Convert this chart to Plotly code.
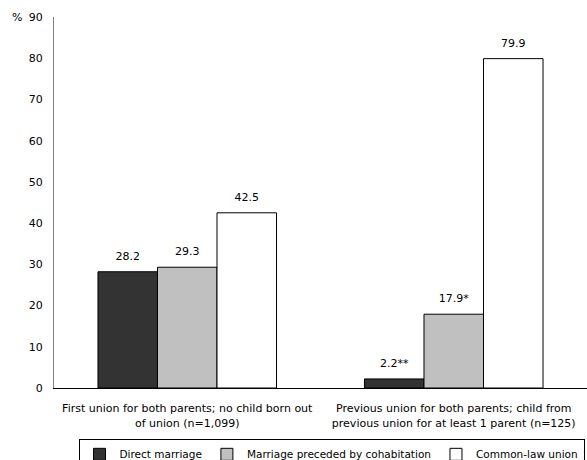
import plotly.graph_objects as go

categories = ["First union for both parents; no child born out<br>of union (n=1,099)",
              "Previous union for both parents; child from<br>previous union for at least 1 parent (n=125)"]
series_names = ["Direct marriage", "Marriage preceded by cohabitation", "Common-law union"]
direct = [28.2, 2.2]
cohab = [29.3, 17.9]
common = [42.5, 79.9]
direct_labels = ["28.2", "2.2**"]
cohab_labels = ["29.3", "17.9*"]
common_labels = ["42.5", "79.9"]
y_ticks = [0, 10, 20, 30, 40, 50, 60, 70, 80, 90]

colors = ["#333333", "#c0c0c0", "#ffffff"]
FONT = "DejaVu Sans"
FS = 11

fig = go.Figure()
for name, vals, col in zip(series_names, [direct, cohab, common], colors):
    fig.add_trace(go.Bar(
        x=categories, y=vals, name=name, marker_color=col,
        marker_line=dict(color="#000000", width=1),
    ))
for name, vals, labs in zip(series_names, [direct, cohab, common],
                            [direct_labels, cohab_labels, common_labels]):
    fig.add_trace(go.Scatter(
        x=categories, y=vals, text=labs, mode="markers+text",
        textposition="top center", marker=dict(size=13, opacity=0),
        textfont=dict(family=FONT, size=FS, color="#000000"),
        showlegend=False, hoverinfo="skip", cliponaxis=False,
    ))

fig.update_layout(
    width=587, height=460,
    margin=dict(l=54, r=0, t=17, b=72, autoexpand=False),
    barmode="group", bargap=0.33, bargroupgap=0,
    scattermode="group", scattergap=0.33,
    plot_bgcolor="white", paper_bgcolor="white",
    font=dict(family=FONT, size=FS, color="#000000"),
    showlegend=True,
    legend=dict(orientation="h", x=0.046, xanchor="left", y=-0.137, yanchor="top",
                bordercolor="#000000", borderwidth=1, font=dict(family=FONT, size=10.5),
                itemwidth=30, tracegroupgap=0),
    yaxis=dict(range=[0, 90], tickvals=y_ticks, showgrid=False, zeroline=False,
               showline=True, linecolor="#808080", linewidth=1, ticks="",
               ticklabelstandoff=8, tickfont=dict(family=FONT, size=FS)),
    xaxis=dict(showline=True, linecolor="#000000", linewidth=1, ticks="",
               ticklabelstandoff=10, tickfont=dict(family=FONT, size=FS)),
    annotations=[dict(text="%", xref="paper", yref="y", x=0, y=90, xanchor="right",
                      xshift=-30, showarrow=False, font=dict(family=FONT, size=FS))],
)

fig.write_html("out.html")
